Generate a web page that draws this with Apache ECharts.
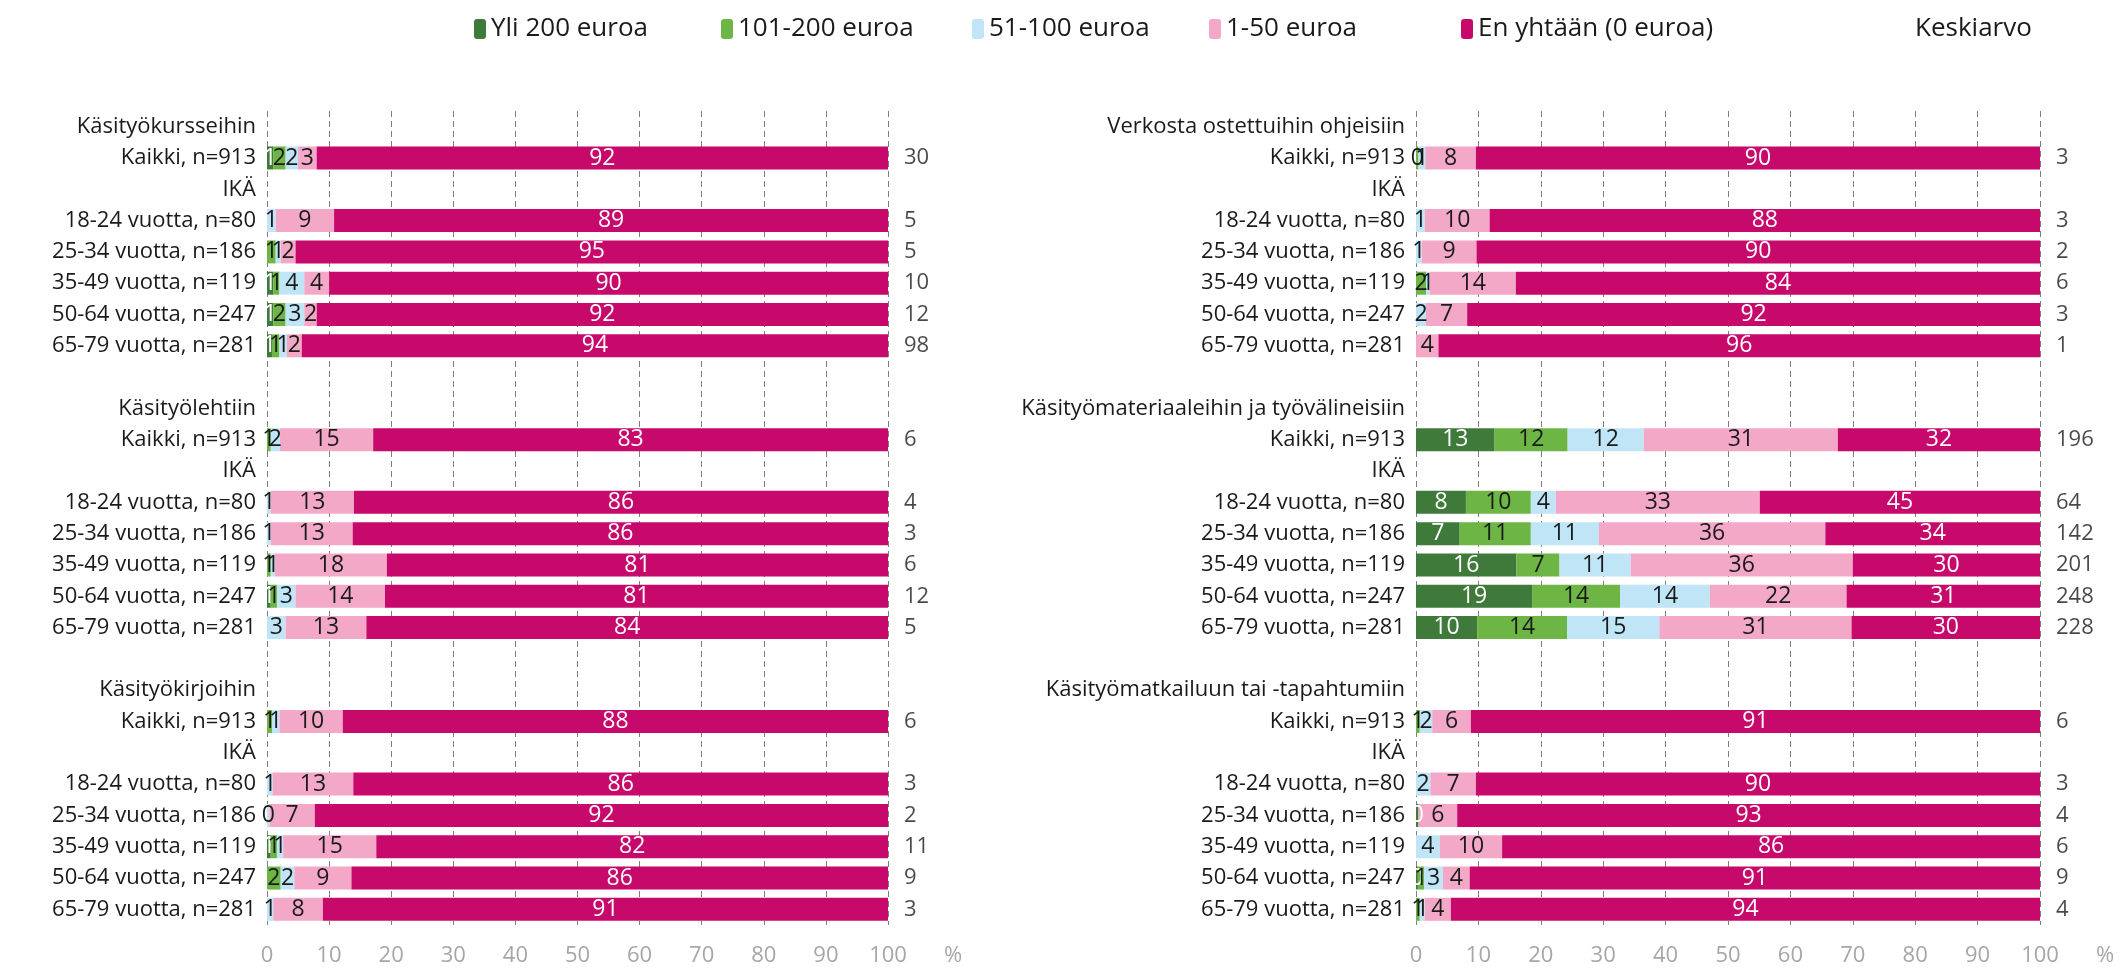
<!DOCTYPE html>
<html>
<head>
<meta charset="utf-8">
<script src="https://cdn.jsdelivr.net/npm/echarts@6/dist/echarts.min.js"></script>
<style>
html,body{margin:0;padding:0;background:#fff;}
#main{width:2125px;height:970px;}
</style>
</head>
<body>
<div id="main"></div>
<script>
// ---- categories / labels ----
const seriesNames = ['Yli 200 euroa', '101-200 euroa', '51-100 euroa', '1-50 euroa', 'En yhtään (0 euroa)'];
const avgName = 'Keskiarvo';
const totalLabel = 'Kaikki, n=913';
const ageHeader = 'IKÄ';
const ageLabels = ['18-24 vuotta, n=80', '25-34 vuotta, n=186', '35-49 vuotta, n=119', '50-64 vuotta, n=247', '65-79 vuotta, n=281'];
const leftGroups = ['Käsityökursseihin', 'Käsityölehtiin', 'Käsityökirjoihin'];
const rightGroups = ['Verkosta ostettuihin ohjeisiin', 'Käsityömateriaaleihin ja työvälineisiin', 'Käsityömatkailuun tai -tapahtumiin'];
const xTicks = [0, 10, 20, 30, 40, 50, 60, 70, 80, 90, 100];

// ---- values (%), rows: Kaikki, 18-24, 25-34, 35-49, 50-64, 65-79 ----
const kurssitYli200 = [1, null, null, 1, 1, 0.8];
const kurssit101 = [2, null, 1.4, 1, 2, 1.2];
const kurssit51 = [2, 1.4, 0.8, 4, 3, 1.2];
const kurssit1 = [3, 9.4, 2.4, 4, 2, 2.4];
const kurssit0 = [92, 89.2, 95.4, 90, 92, 94.4];
const kurssitKa = [30, 5, 5, 10, 12, 98];

const lehdetYli200 = [null, null, null, null, 0.6, null];
const lehdet101 = [0.6, null, null, 0.6, 1, null];
const lehdet51 = [1.5, 0.6, 0.6, 0.7, 3, 3];
const lehdet1 = [15, 13.4, 13.2, 18, 14.4, 13];
const lehdet0 = [82.9, 86, 86.2, 80.7, 81, 84];
const lehdetKa = [6, 4, 3, 6, 12, 5];

const kirjatYli200 = [null, null, null, 0.6, null, null];
const kirjat101 = [0.8, null, null, 1, 2.2, null];
const kirjat51 = [1.2, 0.9, 0.4, 1, 2.2, 1];
const kirjat1 = [10.2, 13, 7.3, 15, 9.2, 8];
const kirjat0 = [87.8, 86.1, 92.3, 82.4, 86.4, 91];
const kirjatKa = [6, 3, 2, 11, 9, 3];

const ohjeetYli200 = [null, null, null, null, null, null];
const ohjeet101 = [0.4, null, null, 1.6, null, null];
const ohjeet51 = [1.1, 1.4, 0.9, 0.6, 1.6, null];
const ohjeet1 = [8.1, 10.4, 8.8, 13.8, 6.6, 3.6];
const ohjeet0 = [90.4, 88.2, 90.3, 84, 91.8, 96.4];
const ohjeetKa = [3, 3, 2, 6, 3, 1];

const materiaalitYli200 = [12.6, 8, 7, 16.1, 18.6, 9.8];
const materiaalit101 = [11.7, 10.4, 11.4, 6.9, 14.1, 14.4];
const materiaalit51 = [12.2, 4, 10.9, 11.4, 14.4, 14.8];
const materiaalit1 = [31.1, 32.7, 36.3, 35.6, 21.9, 30.8];
const materiaalit0 = [32.4, 44.9, 34.4, 30, 31, 30.2];
const materiaalitKa = [196, 64, 142, 201, 248, 228];

const matkailuYli200 = [null, null, 0.4, null, 0.3, null];
const matkailu101 = [0.6, null, null, null, 1, 0.6];
const matkailu51 = [2, 2.3, null, 3.8, 3, 0.8];
const matkailu1 = [6.2, 7.3, 6.2, 10, 4.3, 4.2];
const matkailu0 = [91.2, 90.4, 93.4, 86.2, 91.4, 94.4];
const matkailuKa = [6, 3, 4, 6, 9, 4];

// ---- styling ----
const colors = ['#3f7a3b', '#6db544', '#bfe5f6', '#f3a8c8', '#c8096c'];
const labelColors = ['#ffffff', '#1a1a1a', '#1a1a1a', '#1a1a1a', '#ffffff'];
const FONT = "'Open Sans', sans-serif";
const FS = 22;

const leftPanels = [
  [kurssitYli200, kurssit101, kurssit51, kurssit1, kurssit0, kurssitKa],
  [lehdetYli200, lehdet101, lehdet51, lehdet1, lehdet0, lehdetKa],
  [kirjatYli200, kirjat101, kirjat51, kirjat1, kirjat0, kirjatKa]
];
const rightPanels = [
  [ohjeetYli200, ohjeet101, ohjeet51, ohjeet1, ohjeet0, ohjeetKa],
  [materiaalitYli200, materiaalit101, materiaalit51, materiaalit1, materiaalit0, materiaalitKa],
  [matkailuYli200, matkailu101, matkailu51, matkailu1, matkailu0, matkailuKa]
];

function buildSide(groups, panels) {
  const cats = [];
  const bands = [[], [], [], [], []];
  const avg = [];
  groups.forEach((g, gi) => {
    const rows = [g, totalLabel, ageHeader].concat(ageLabels);
    const dataIdx = [null, 0, null, 1, 2, 3, 4, 5];
    rows.forEach((r, ri) => {
      const idx = cats.length;
      cats.push(r);
      const di = dataIdx[ri];
      for (let b = 0; b < 5; b++) bands[b].push(di === null ? null : panels[gi][b][di]);
      if (di !== null) avg.push([100, idx, panels[gi][5][di]]);
    });
    if (gi < groups.length - 1) {
      cats.push(' ');
      for (let b = 0; b < 5; b++) bands[b].push(null);
    }
  });
  return { cats, bands, avg };
}

const L = buildSide(leftGroups, leftPanels);
const R = buildSide(rightGroups, rightPanels);

const gridTop = 111, gridBottom = 970 - 925;
const grids = [
  { left: 267, width: 621, top: gridTop, bottom: gridBottom, containLabel: false },
  { left: 1416, width: 624, top: gridTop, bottom: gridBottom, containLabel: false }
];

function xAxis(gi) {
  return {
    type: 'value', gridIndex: gi, min: 0, max: 100, interval: 10,
    axisLine: { show: false }, axisTick: { show: false },
    splitLine: { show: true, lineStyle: { color: '#7f7f7f', type: [6, 4], width: 1 } },
    axisLabel: { color: '#a6a6a6', fontSize: FS, fontFamily: FONT, margin: 20 },
    name: '%', nameLocation: 'end', nameGap: 56,
    nameTextStyle: { color: '#a6a6a6', fontSize: FS, fontFamily: FONT, verticalAlign: 'top', padding: [20, 0, 0, 0] }
  };
}
function yAxis(gi, cats) {
  return {
    type: 'category', gridIndex: gi, data: cats, inverse: true,
    axisLine: { show: false }, axisTick: { show: false }, splitLine: { show: false },
    axisLabel: { color: '#1a1a1a', fontSize: FS, fontFamily: FONT, margin: 11, interval: 0 }
  };
}

const series = [];
[L, R].forEach((side, gi) => {
  for (let b = 0; b < 5; b++) {
    series.push({
      name: seriesNames[b], type: 'bar', stack: 'side' + gi,
      xAxisIndex: gi, yAxisIndex: gi, barWidth: 23,
      data: side.bands[b],
      itemStyle: { color: colors[b] },
      label: {
        show: true, position: 'inside', color: labelColors[b], fontSize: 23, fontFamily: FONT,
        formatter: p => (p.value == null ? '' : String(Math.round(p.value)))
      },
      emphasis: { disabled: true }
    });
  }
  series.push({
    name: avgName, type: 'scatter', xAxisIndex: gi, yAxisIndex: gi,
    symbolSize: 0, data: side.avg,
    label: { show: true, position: 'right', distance: 16, color: '#1a1a1a', fontSize: FS, fontFamily: FONT,
      formatter: p => String(p.data[2]) },
    itemStyle: { color: 'rgba(0,0,0,0)' },
    emphasis: { disabled: true }
  });
});

const LFS = 26;
const legendPos = [474, 721, 972, 1209, 1461];
const legends = seriesNames.map((n, i) => ({
  data: [n], left: legendPos[i] - 5, top: 11, itemWidth: 12, itemHeight: 20, itemGap: 0,
  textStyle: { color: '#1a1a1a', fontSize: LFS, fontFamily: FONT }, selectedMode: false
}));
legends.push({
  data: [{ name: avgName, icon: 'none' }], left: 1915 - 5 - 12 - 5, top: 11, itemWidth: 12, itemHeight: 20,
  textStyle: { color: '#1a1a1a', fontSize: LFS, fontFamily: FONT }, selectedMode: false
});

const chart = echarts.init(document.getElementById('main'), null, { renderer: 'canvas' });
chart.setOption({
  backgroundColor: '#ffffff',
  animation: false,
  legend: legends,
  grid: grids,
  xAxis: [xAxis(0), xAxis(1)],
  yAxis: [yAxis(0, L.cats), yAxis(1, R.cats)],
  series: series
});
</script>
</body>
</html>
